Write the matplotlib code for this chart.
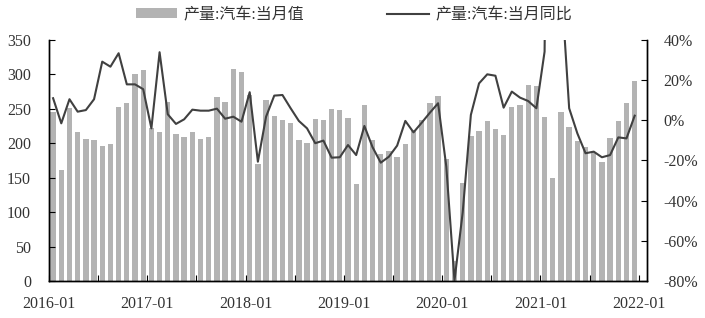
import numpy as np
import matplotlib
matplotlib.use("Agg")
import matplotlib.pyplot as plt

plt.rcParams['font.family'] = ['Liberation Serif', 'Noto Sans CJK SC']

# monthly data, 2016-01 .. 2021-12
months = [f"{y}-{m:02d}" for y in range(2016, 2022) for m in range(1, 13)]

# 产量:汽车:当月值 (万辆)
output_2016 = [245.5, 161.2, 251.7, 216.4, 206.7, 204.8, 196.1, 199.0, 252.7, 259.0, 300.8, 306.4]
output_2017 = [221.6, 216.6, 260.4, 213.5, 208.7, 216.6, 206.1, 209.1, 267.2, 260.4, 307.9, 303.5]
output_2018 = [270.0, 170.0, 262.9, 239.6, 233.8, 229.9, 204.8, 200.9, 235.3, 233.8, 249.8, 248.3]
output_2019 = [237.2, 140.9, 255.6, 204.8, 184.4, 189.3, 180.5, 199.0, 219.3, 233.8, 259.0, 269.1]
output_2020 = [176.7, 28.5, 142.8, 210.6, 218.3, 232.8, 220.3, 212.0, 253.2, 255.6, 284.7, 283.2]
output_2021 = [238.2, 149.6, 245.4, 223.7, 203.3, 195.1, 187.3, 172.8, 208.2, 232.4, 259.0, 290.5]

# 产量:汽车:当月同比 (%)
yoy_2016 = [11.0, -1.5, 10.5, 4.3, 5.1, 10.5, 29.2, 26.7, 33.4, 17.9, 17.9, 15.5]
yoy_2017 = [-4.0, 33.9, 3.0, -1.8, 0.5, 5.3, 4.8, 4.8, 5.8, 0.8, 1.8, -0.7]
yoy_2018 = [14.0, -20.6, 1.8, 12.3, 12.6, 6.0, -0.3, -4.0, -11.4, -10.1, -18.6, -18.4]
yoy_2019 = [-12.3, -17.3, -2.8, -13.4, -21.1, -18.1, -12.6, -0.3, -6.0, -1.2, 3.8, 8.5]
yoy_2020 = [-23.0, -79.8, -46.0, 2.7, 18.4, 22.9, 22.2, 6.3, 14.3, 11.3, 9.6, 6.0]
yoy_2021 = [34.2, 420.0, 70.0, 6.0, -6.5, -16.4, -15.6, -18.4, -17.3, -8.5, -9.0, 2.3]

output = np.array(output_2016 + output_2017 + output_2018 + output_2019 + output_2020 + output_2021)
yoy = np.array(yoy_2016 + yoy_2017 + yoy_2018 + yoy_2019 + yoy_2020 + yoy_2021)

year_labels = ["2016-01", "2017-01", "2018-01", "2019-01", "2020-01", "2021-01", "2022-01"]

x = np.arange(len(months))

fig = plt.figure(figsize=(7.05, 3.18), dpi=100)
ax = fig.add_axes([0.0695, 0.1164, 0.8482, 0.7579])

bars = ax.bar(x, output, width=0.65, color='#b3b3b3', label='产量:汽车:当月值')
ax.set_ylim(0, 350)
ax.set_yticks(np.arange(0, 351, 50))
ax.set_xlim(-0.5, len(months) + 0.5)

# ticks every 6 months, labels every 12 months
ax.set_xticks(np.arange(-0.5, len(months) + 0.5, 6))
ax.set_xticklabels([year_labels[i // 2] if i % 2 == 0 else "" for i in range(13)])

ax2 = ax.twinx()
line, = ax2.plot(x, yoy, color='#404040', lw=1.5, label='产量:汽车:当月同比')
ax2.set_ylim(-80, 40)
ax2.set_yticks(np.arange(-80, 41, 20))
ax2.set_yticklabels([f"{v}%" for v in range(-80, 41, 20)])

for a in (ax, ax2):
    a.spines['top'].set_visible(False)
    for s in a.spines.values():
        s.set_linewidth(1.0)
        s.set_color('black')

ax.tick_params(axis='x', direction='in', length=4, pad=11, labelsize=11.5)
ax.tick_params(axis='y', direction='in', length=4, pad=13, labelsize=11.5)
ax2.tick_params(axis='y', direction='in', length=4, pad=12, labelsize=11.5)
for lab in ax.get_yticklabels() + ax2.get_yticklabels() + ax.get_xticklabels():
    lab.set_color('#333333')

leg = fig.legend([bars, line], ['产量:汽车:当月值', '产量:汽车:当月同比'],
                 loc='center', bbox_to_anchor=(0.502, 0.953), ncol=2, frameon=False,
                 fontsize=11.5, handlelength=2.6, handleheight=0.55, columnspacing=5.2,
                 handletextpad=0.4)
for t in leg.get_texts():
    t.set_color('#333333')

fig.savefig("out.png", dpi=100)
